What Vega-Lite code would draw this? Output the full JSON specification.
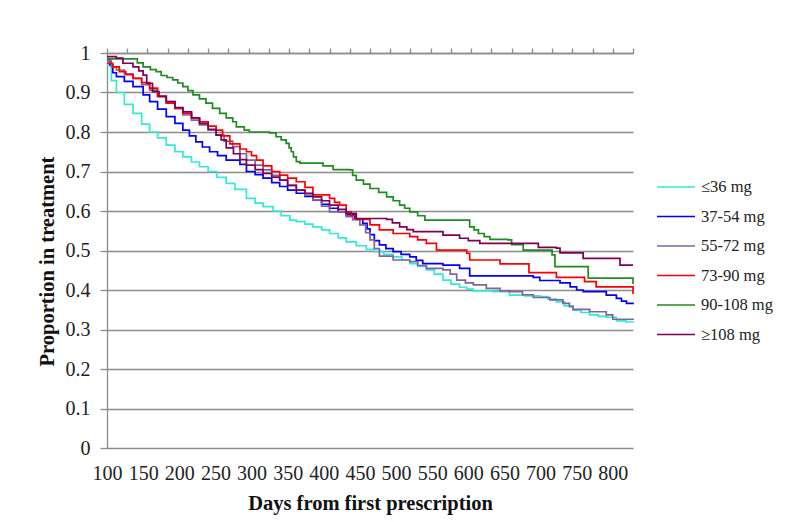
{
  "$schema": "https://vega.github.io/schema/vega-lite/v6.json",
  "autosize": "none",
  "width": 526,
  "height": 395,
  "padding": {"left": 107, "top": 53, "right": 167, "bottom": 74},
  "background": "white",
  "config": {
    "view": {"stroke": null},
    "font": "Liberation Serif",
    "axis": {"labelFont": "Liberation Serif", "titleFont": "Liberation Serif", "labelColor": "#222", "titleColor": "#111", "domainColor": "#8c8c8c", "tickColor": "#8c8c8c", "gridColor": "#8c8c8c"}
  },
  "data": {"values": [
    {"g":"≤36 mg","d":100,"p":0.97},{"g":"≤36 mg","d":106,"p":0.93},{"g":"≤36 mg","d":113,"p":0.9},{"g":"≤36 mg","d":124,"p":0.87},{"g":"≤36 mg","d":136,"p":0.847},{"g":"≤36 mg","d":148,"p":0.82},{"g":"≤36 mg","d":159,"p":0.8},{"g":"≤36 mg","d":170,"p":0.785},{"g":"≤36 mg","d":182,"p":0.767},{"g":"≤36 mg","d":194,"p":0.75},{"g":"≤36 mg","d":205,"p":0.737},{"g":"≤36 mg","d":217,"p":0.724},{"g":"≤36 mg","d":228,"p":0.712},{"g":"≤36 mg","d":240,"p":0.7},{"g":"≤36 mg","d":252,"p":0.685},{"g":"≤36 mg","d":265,"p":0.67},{"g":"≤36 mg","d":277,"p":0.655},{"g":"≤36 mg","d":293,"p":0.632},{"g":"≤36 mg","d":305,"p":0.62},{"g":"≤36 mg","d":316,"p":0.611},{"g":"≤36 mg","d":330,"p":0.6},{"g":"≤36 mg","d":341,"p":0.588},{"g":"≤36 mg","d":353,"p":0.577},{"g":"≤36 mg","d":362,"p":0.573},{"g":"≤36 mg","d":374,"p":0.567},{"g":"≤36 mg","d":385,"p":0.56},{"g":"≤36 mg","d":397,"p":0.552},{"g":"≤36 mg","d":408,"p":0.543},{"g":"≤36 mg","d":420,"p":0.532},{"g":"≤36 mg","d":431,"p":0.522},{"g":"≤36 mg","d":445,"p":0.512},{"g":"≤36 mg","d":459,"p":0.503},{"g":"≤36 mg","d":470,"p":0.497},{"g":"≤36 mg","d":483,"p":0.49},{"g":"≤36 mg","d":496,"p":0.484},{"g":"≤36 mg","d":508,"p":0.476},{"g":"≤36 mg","d":519,"p":0.467},{"g":"≤36 mg","d":530,"p":0.46},{"g":"≤36 mg","d":542,"p":0.451},{"g":"≤36 mg","d":553,"p":0.44},{"g":"≤36 mg","d":565,"p":0.425},{"g":"≤36 mg","d":576,"p":0.415},{"g":"≤36 mg","d":588,"p":0.407},{"g":"≤36 mg","d":598,"p":0.402},{"g":"≤36 mg","d":607,"p":0.398},{"g":"≤36 mg","d":634,"p":0.396},{"g":"≤36 mg","d":657,"p":0.387},{"g":"≤36 mg","d":678,"p":0.385},{"g":"≤36 mg","d":699,"p":0.383},{"g":"≤36 mg","d":710,"p":0.377},{"g":"≤36 mg","d":722,"p":0.37},{"g":"≤36 mg","d":733,"p":0.36},{"g":"≤36 mg","d":745,"p":0.349},{"g":"≤36 mg","d":756,"p":0.343},{"g":"≤36 mg","d":768,"p":0.337},{"g":"≤36 mg","d":780,"p":0.333},{"g":"≤36 mg","d":791,"p":0.331},{"g":"≤36 mg","d":805,"p":0.322},{"g":"≤36 mg","d":818,"p":0.319},{"g":"≤36 mg","d":828,"p":0.317},

    {"g":"37-54 mg","d":100,"p":0.985},{"g":"37-54 mg","d":104,"p":0.97},{"g":"37-54 mg","d":108,"p":0.95},{"g":"37-54 mg","d":113,"p":0.94},{"g":"37-54 mg","d":124,"p":0.928},{"g":"37-54 mg","d":136,"p":0.915},{"g":"37-54 mg","d":150,"p":0.894},{"g":"37-54 mg","d":159,"p":0.877},{"g":"37-54 mg","d":170,"p":0.858},{"g":"37-54 mg","d":182,"p":0.839},{"g":"37-54 mg","d":194,"p":0.822},{"g":"37-54 mg","d":205,"p":0.805},{"g":"37-54 mg","d":214,"p":0.79},{"g":"37-54 mg","d":223,"p":0.775},{"g":"37-54 mg","d":232,"p":0.762},{"g":"37-54 mg","d":242,"p":0.75},{"g":"37-54 mg","d":253,"p":0.74},{"g":"37-54 mg","d":265,"p":0.729},{"g":"37-54 mg","d":284,"p":0.718},{"g":"37-54 mg","d":293,"p":0.7},{"g":"37-54 mg","d":305,"p":0.692},{"g":"37-54 mg","d":316,"p":0.683},{"g":"37-54 mg","d":328,"p":0.672},{"g":"37-54 mg","d":339,"p":0.662},{"g":"37-54 mg","d":350,"p":0.653},{"g":"37-54 mg","d":362,"p":0.645},{"g":"37-54 mg","d":374,"p":0.637},{"g":"37-54 mg","d":385,"p":0.628},{"g":"37-54 mg","d":397,"p":0.617},{"g":"37-54 mg","d":408,"p":0.607},{"g":"37-54 mg","d":420,"p":0.598},{"g":"37-54 mg","d":431,"p":0.59},{"g":"37-54 mg","d":443,"p":0.58},{"g":"37-54 mg","d":454,"p":0.569},{"g":"37-54 mg","d":460,"p":0.555},{"g":"37-54 mg","d":464,"p":0.54},{"g":"37-54 mg","d":470,"p":0.525},{"g":"37-54 mg","d":477,"p":0.514},{"g":"37-54 mg","d":486,"p":0.505},{"g":"37-54 mg","d":496,"p":0.497},{"g":"37-54 mg","d":507,"p":0.49},{"g":"37-54 mg","d":519,"p":0.484},{"g":"37-54 mg","d":528,"p":0.475},{"g":"37-54 mg","d":537,"p":0.467},{"g":"37-54 mg","d":565,"p":0.463},{"g":"37-54 mg","d":588,"p":0.455},{"g":"37-54 mg","d":602,"p":0.436},{"g":"37-54 mg","d":690,"p":0.432},{"g":"37-54 mg","d":699,"p":0.424},{"g":"37-54 mg","d":727,"p":0.418},{"g":"37-54 mg","d":741,"p":0.408},{"g":"37-54 mg","d":750,"p":0.4},{"g":"37-54 mg","d":759,"p":0.396},{"g":"37-54 mg","d":791,"p":0.387},{"g":"37-54 mg","d":805,"p":0.379},{"g":"37-54 mg","d":812,"p":0.372},{"g":"37-54 mg","d":819,"p":0.366},{"g":"37-54 mg","d":828,"p":0.364},

    {"g":"55-72 mg","d":100,"p":0.98},{"g":"55-72 mg","d":106,"p":0.965},{"g":"55-72 mg","d":113,"p":0.957},{"g":"55-72 mg","d":124,"p":0.947},{"g":"55-72 mg","d":136,"p":0.936},{"g":"55-72 mg","d":148,"p":0.92},{"g":"55-72 mg","d":159,"p":0.906},{"g":"55-72 mg","d":170,"p":0.89},{"g":"55-72 mg","d":182,"p":0.877},{"g":"55-72 mg","d":194,"p":0.86},{"g":"55-72 mg","d":205,"p":0.843},{"g":"55-72 mg","d":217,"p":0.83},{"g":"55-72 mg","d":228,"p":0.818},{"g":"55-72 mg","d":240,"p":0.805},{"g":"55-72 mg","d":251,"p":0.792},{"g":"55-72 mg","d":262,"p":0.777},{"g":"55-72 mg","d":274,"p":0.763},{"g":"55-72 mg","d":284,"p":0.745},{"g":"55-72 mg","d":293,"p":0.729},{"g":"55-72 mg","d":305,"p":0.716},{"g":"55-72 mg","d":316,"p":0.704},{"g":"55-72 mg","d":328,"p":0.69},{"g":"55-72 mg","d":339,"p":0.678},{"g":"55-72 mg","d":350,"p":0.665},{"g":"55-72 mg","d":362,"p":0.653},{"g":"55-72 mg","d":374,"p":0.64},{"g":"55-72 mg","d":385,"p":0.628},{"g":"55-72 mg","d":397,"p":0.612},{"g":"55-72 mg","d":408,"p":0.598},{"g":"55-72 mg","d":431,"p":0.586},{"g":"55-72 mg","d":440,"p":0.578},{"g":"55-72 mg","d":450,"p":0.565},{"g":"55-72 mg","d":458,"p":0.545},{"g":"55-72 mg","d":464,"p":0.527},{"g":"55-72 mg","d":470,"p":0.505},{"g":"55-72 mg","d":477,"p":0.486},{"g":"55-72 mg","d":496,"p":0.476},{"g":"55-72 mg","d":519,"p":0.472},{"g":"55-72 mg","d":530,"p":0.462},{"g":"55-72 mg","d":542,"p":0.455},{"g":"55-72 mg","d":565,"p":0.451},{"g":"55-72 mg","d":575,"p":0.44},{"g":"55-72 mg","d":584,"p":0.425},{"g":"55-72 mg","d":596,"p":0.418},{"g":"55-72 mg","d":607,"p":0.413},{"g":"55-72 mg","d":625,"p":0.404},{"g":"55-72 mg","d":644,"p":0.398},{"g":"55-72 mg","d":657,"p":0.396},{"g":"55-72 mg","d":675,"p":0.388},{"g":"55-72 mg","d":690,"p":0.381},{"g":"55-72 mg","d":713,"p":0.375},{"g":"55-72 mg","d":731,"p":0.366},{"g":"55-72 mg","d":740,"p":0.358},{"g":"55-72 mg","d":745,"p":0.351},{"g":"55-72 mg","d":768,"p":0.345},{"g":"55-72 mg","d":791,"p":0.337},{"g":"55-72 mg","d":800,"p":0.326},{"g":"55-72 mg","d":828,"p":0.324},

    {"g":"73-90 mg","d":100,"p":0.974},{"g":"73-90 mg","d":108,"p":0.965},{"g":"73-90 mg","d":117,"p":0.953},{"g":"73-90 mg","d":126,"p":0.945},{"g":"73-90 mg","d":136,"p":0.936},{"g":"73-90 mg","d":148,"p":0.925},{"g":"73-90 mg","d":159,"p":0.911},{"g":"73-90 mg","d":170,"p":0.89},{"g":"73-90 mg","d":182,"p":0.873},{"g":"73-90 mg","d":194,"p":0.86},{"g":"73-90 mg","d":205,"p":0.847},{"g":"73-90 mg","d":217,"p":0.836},{"g":"73-90 mg","d":228,"p":0.826},{"g":"73-90 mg","d":240,"p":0.815},{"g":"73-90 mg","d":251,"p":0.805},{"g":"73-90 mg","d":260,"p":0.79},{"g":"73-90 mg","d":270,"p":0.77},{"g":"73-90 mg","d":284,"p":0.757},{"g":"73-90 mg","d":293,"p":0.75},{"g":"73-90 mg","d":300,"p":0.74},{"g":"73-90 mg","d":307,"p":0.729},{"g":"73-90 mg","d":316,"p":0.714},{"g":"73-90 mg","d":328,"p":0.7},{"g":"73-90 mg","d":339,"p":0.691},{"g":"73-90 mg","d":350,"p":0.683},{"g":"73-90 mg","d":362,"p":0.674},{"g":"73-90 mg","d":374,"p":0.66},{"g":"73-90 mg","d":385,"p":0.641},{"g":"73-90 mg","d":408,"p":0.632},{"g":"73-90 mg","d":415,"p":0.622},{"g":"73-90 mg","d":422,"p":0.615},{"g":"73-90 mg","d":431,"p":0.598},{"g":"73-90 mg","d":438,"p":0.588},{"g":"73-90 mg","d":445,"p":0.579},{"g":"73-90 mg","d":464,"p":0.565},{"g":"73-90 mg","d":477,"p":0.552},{"g":"73-90 mg","d":496,"p":0.543},{"g":"73-90 mg","d":519,"p":0.535},{"g":"73-90 mg","d":530,"p":0.527},{"g":"73-90 mg","d":542,"p":0.518},{"g":"73-90 mg","d":556,"p":0.501},{"g":"73-90 mg","d":598,"p":0.493},{"g":"73-90 mg","d":602,"p":0.476},{"g":"73-90 mg","d":644,"p":0.466},{"g":"73-90 mg","d":684,"p":0.444},{"g":"73-90 mg","d":722,"p":0.432},{"g":"73-90 mg","d":761,"p":0.421},{"g":"73-90 mg","d":777,"p":0.408},{"g":"73-90 mg","d":826,"p":0.408},{"g":"73-90 mg","d":828,"p":0.39},

    {"g":"90-108 mg","d":100,"p":0.985},{"g":"90-108 mg","d":138,"p":0.985},{"g":"90-108 mg","d":142,"p":0.975},{"g":"90-108 mg","d":150,"p":0.965},{"g":"90-108 mg","d":160,"p":0.958},{"g":"90-108 mg","d":168,"p":0.953},{"g":"90-108 mg","d":175,"p":0.943},{"g":"90-108 mg","d":183,"p":0.938},{"g":"90-108 mg","d":191,"p":0.932},{"g":"90-108 mg","d":198,"p":0.924},{"g":"90-108 mg","d":205,"p":0.915},{"g":"90-108 mg","d":212,"p":0.905},{"g":"90-108 mg","d":219,"p":0.894},{"g":"90-108 mg","d":228,"p":0.884},{"g":"90-108 mg","d":237,"p":0.873},{"g":"90-108 mg","d":246,"p":0.86},{"g":"90-108 mg","d":256,"p":0.847},{"g":"90-108 mg","d":265,"p":0.836},{"g":"90-108 mg","d":274,"p":0.826},{"g":"90-108 mg","d":279,"p":0.813},{"g":"90-108 mg","d":290,"p":0.805},{"g":"90-108 mg","d":297,"p":0.8},{"g":"90-108 mg","d":325,"p":0.798},{"g":"90-108 mg","d":334,"p":0.788},{"g":"90-108 mg","d":341,"p":0.78},{"g":"90-108 mg","d":348,"p":0.771},{"g":"90-108 mg","d":352,"p":0.76},{"g":"90-108 mg","d":355,"p":0.75},{"g":"90-108 mg","d":358,"p":0.737},{"g":"90-108 mg","d":362,"p":0.725},{"g":"90-108 mg","d":367,"p":0.721},{"g":"90-108 mg","d":399,"p":0.714},{"g":"90-108 mg","d":413,"p":0.705},{"g":"90-108 mg","d":436,"p":0.704},{"g":"90-108 mg","d":440,"p":0.69},{"g":"90-108 mg","d":445,"p":0.678},{"g":"90-108 mg","d":455,"p":0.668},{"g":"90-108 mg","d":464,"p":0.657},{"g":"90-108 mg","d":476,"p":0.647},{"g":"90-108 mg","d":487,"p":0.636},{"g":"90-108 mg","d":496,"p":0.626},{"g":"90-108 mg","d":505,"p":0.615},{"g":"90-108 mg","d":512,"p":0.607},{"g":"90-108 mg","d":519,"p":0.598},{"g":"90-108 mg","d":530,"p":0.588},{"g":"90-108 mg","d":540,"p":0.577},{"g":"90-108 mg","d":598,"p":0.577},{"g":"90-108 mg","d":602,"p":0.56},{"g":"90-108 mg","d":608,"p":0.552},{"g":"90-108 mg","d":614,"p":0.543},{"g":"90-108 mg","d":622,"p":0.535},{"g":"90-108 mg","d":630,"p":0.528},{"g":"90-108 mg","d":655,"p":0.527},{"g":"90-108 mg","d":660,"p":0.515},{"g":"90-108 mg","d":676,"p":0.501},{"g":"90-108 mg","d":708,"p":0.501},{"g":"90-108 mg","d":716,"p":0.489},{"g":"90-108 mg","d":720,"p":0.459},{"g":"90-108 mg","d":764,"p":0.459},{"g":"90-108 mg","d":766,"p":0.43},{"g":"90-108 mg","d":826,"p":0.43},{"g":"90-108 mg","d":828,"p":0.415},

    {"g":"≥108 mg","d":100,"p":0.991},{"g":"≥108 mg","d":113,"p":0.987},{"g":"≥108 mg","d":122,"p":0.974},{"g":"≥108 mg","d":136,"p":0.965},{"g":"≥108 mg","d":144,"p":0.955},{"g":"≥108 mg","d":150,"p":0.944},{"g":"≥108 mg","d":155,"p":0.923},{"g":"≥108 mg","d":163,"p":0.902},{"g":"≥108 mg","d":172,"p":0.89},{"g":"≥108 mg","d":182,"p":0.877},{"g":"≥108 mg","d":194,"p":0.862},{"g":"≥108 mg","d":205,"p":0.851},{"g":"≥108 mg","d":217,"p":0.836},{"g":"≥108 mg","d":228,"p":0.822},{"g":"≥108 mg","d":240,"p":0.807},{"g":"≥108 mg","d":251,"p":0.792},{"g":"≥108 mg","d":258,"p":0.78},{"g":"≥108 mg","d":265,"p":0.76},{"g":"≥108 mg","d":275,"p":0.745},{"g":"≥108 mg","d":284,"p":0.73},{"g":"≥108 mg","d":293,"p":0.716},{"g":"≥108 mg","d":305,"p":0.705},{"g":"≥108 mg","d":316,"p":0.695},{"g":"≥108 mg","d":328,"p":0.686},{"g":"≥108 mg","d":339,"p":0.678},{"g":"≥108 mg","d":350,"p":0.665},{"g":"≥108 mg","d":362,"p":0.653},{"g":"≥108 mg","d":374,"p":0.645},{"g":"≥108 mg","d":385,"p":0.636},{"g":"≥108 mg","d":397,"p":0.626},{"g":"≥108 mg","d":408,"p":0.615},{"g":"≥108 mg","d":420,"p":0.604},{"g":"≥108 mg","d":431,"p":0.594},{"g":"≥108 mg","d":445,"p":0.581},{"g":"≥108 mg","d":487,"p":0.579},{"g":"≥108 mg","d":495,"p":0.57},{"g":"≥108 mg","d":505,"p":0.56},{"g":"≥108 mg","d":515,"p":0.553},{"g":"≥108 mg","d":524,"p":0.548},{"g":"≥108 mg","d":565,"p":0.539},{"g":"≥108 mg","d":588,"p":0.531},{"g":"≥108 mg","d":600,"p":0.525},{"g":"≥108 mg","d":616,"p":0.518},{"g":"≥108 mg","d":690,"p":0.518},{"g":"≥108 mg","d":697,"p":0.508},{"g":"≥108 mg","d":722,"p":0.506},{"g":"≥108 mg","d":727,"p":0.494},{"g":"≥108 mg","d":759,"p":0.48},{"g":"≥108 mg","d":810,"p":0.463},{"g":"≥108 mg","d":828,"p":0.463}
  ]},
  "layer": [
    {
      "mark": {"type": "line", "interpolate": "step-after", "strokeWidth": 1.7},
      "encoding": {
        "x": {"field": "d", "type": "quantitative", "scale": {"domain": [100, 828], "nice": false, "zero": false},
          "axis": {"title": "Days from first prescription", "values": [100,150,200,250,300,350,400,450,500,550,600,650,700,750,800], "ticks": false, "domain": false, "grid": false, "labelFontSize": 20, "labelPadding": 15, "titleFontSize": 20.5, "titleFontWeight": "bold", "titlePadding": 10, "labelFlush": false}},
        "y": {"field": "p", "type": "quantitative", "scale": {"domain": [0, 1], "nice": false},
          "axis": {"title": "Proportion in treatment", "values": [0,0.1,0.2,0.3,0.4,0.5,0.6,0.7,0.8,0.9,1], "format": ".1~f", "labelFontSize": 20, "tickSize": 7, "labelPadding": 10, "titleFontSize": 20.5, "titleFontWeight": "bold", "titlePadding": 8, "titleY": 208, "grid": true, "gridWidth": 1.3, "domainWidth": 1.3, "tickWidth": 1.3}},
        "color": {"field": "g", "type": "nominal",
          "scale": {"domain": ["≤36 mg","37-54 mg","55-72 mg","73-90 mg","90-108 mg","≥108 mg"], "range": ["#33EBD3","#0000FF","#8064A2","#FF0000","#1E8C1E","#800055"]},
          "legend": {"title": null, "orient": "none", "legendX": 549, "legendY": 114, "symbolType": "stroke", "symbolSize": 1444, "symbolStrokeWidth": 1.7, "labelFont": "Liberation Serif", "labelFontSize": 16.5, "labelColor": "#222", "labelOffset": 5, "rowPadding": 0.5}}
      }
    },
    {
      "mark": {"type": "line", "strokeOpacity": 0},
      "encoding": {
        "x": {"field": "d", "type": "quantitative",
          "axis": {"title": null, "values": [100,128,156,184,212,240,268,296,324,352,380,408,436,464,492,520,548,576,604,632,660,688,716,744,772,800,828], "labels": false, "ticks": true, "tickSize": 5, "grid": false, "domain": true, "domainWidth": 1.3, "tickWidth": 1.3}},
        "y": {"field": "p", "type": "quantitative",
          "axis": {"title": "Proportion in treatment", "values": [0,0.1,0.2,0.3,0.4,0.5,0.6,0.7,0.8,0.9,1], "format": ".1~f", "labelFontSize": 20, "tickSize": 7, "labelPadding": 10, "titleFontSize": 20.5, "titleFontWeight": "bold", "titlePadding": 8, "titleY": 208, "grid": true, "gridWidth": 1.3, "domainWidth": 1.3, "tickWidth": 1.3}},
        "detail": {"field": "g"}
      }
    }
  ],
  "resolve": {"axis": {"x": "independent"}}
}
